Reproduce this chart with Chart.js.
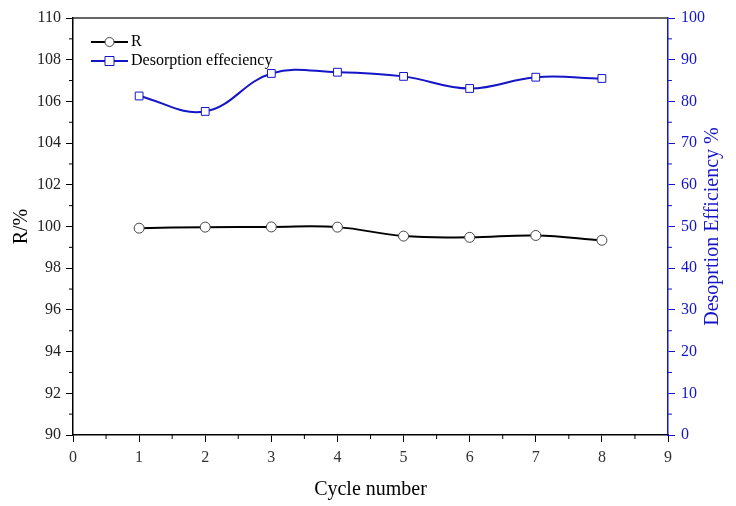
<!DOCTYPE html>
<html>
<head>
<meta charset="utf-8">
<script src="https://cdn.jsdelivr.net/npm/chart.js@4"></script>
<style>
  html, body { margin: 0; padding: 0; background: #fff; }
  #wrap { width: 736px; height: 506px; }
</style>
</head>
<body>
<div id="wrap"><canvas id="cycleChart" width="736" height="506"></canvas></div>
<script>
// values
const cycles = [1, 2, 3, 4, 5, 6, 7, 8];
const rValues = [99.92, 99.97, 99.98, 99.97, 99.54, 99.48, 99.57, 99.34];
const desValues = [81.3, 77.6, 86.7, 87.0, 86.0, 83.1, 85.8, 85.5];
const xTicks = [0, 1, 2, 3, 4, 5, 6, 7, 8, 9];
const legendLabels = ["R", "Desorption effeciency"];
const rightTitle = "Desoprtion Efficiency %";

const BLUE = "#1414c8";
const FONT = "'Liberation Serif', 'Times New Roman', serif";

// short minor ticks in between the major ones + top frame line + legend + right title
const extras = {
    id: "extras",
    afterDraw(chart) {
        const ctx = chart.ctx;
        const area = chart.chartArea;
        const drawMinor = function (scale, step, color, side) {
            ctx.save();
            ctx.strokeStyle = color;
            ctx.lineWidth = 1;
            ctx.beginPath();
            for (let v = scale.min + step; v < scale.max; v += step * 2) {
                const p = scale.getPixelForValue(v);
                if (side === "bottom") { ctx.moveTo(p, area.bottom); ctx.lineTo(p, area.bottom + 4); }
                if (side === "left") { ctx.moveTo(area.left, p); ctx.lineTo(area.left - 4, p); }
                if (side === "right") { ctx.moveTo(area.right, p); ctx.lineTo(area.right + 4, p); }
            }
            ctx.stroke();
            ctx.restore();
        };
        drawMinor(chart.scales.x, 0.5, "#000", "bottom");
        drawMinor(chart.scales.y, 1, "#000", "left");
        drawMinor(chart.scales.y2, 5, BLUE, "right");

        ctx.save();
        ctx.strokeStyle = "#333";
        ctx.lineWidth = 1.5;
        ctx.beginPath();
        ctx.moveTo(area.left, area.top);
        ctx.lineTo(area.right, area.top);
        ctx.stroke();
        ctx.restore();

        // right axis title reads bottom to top
        ctx.save();
        ctx.translate(713, (area.top + area.bottom) / 2);
        ctx.rotate(-Math.PI / 2);
        ctx.font = "20px " + FONT;
        ctx.fillStyle = BLUE;
        ctx.textAlign = "center";
        ctx.textBaseline = "middle";
        ctx.fillText(rightTitle, 0, 0);
        ctx.restore();

        // legend: line with marker in the middle
        ctx.save();
        ctx.font = "16px " + FONT;
        ctx.textBaseline = "middle";
        const rows = [
            { y: 42, color: "#000", style: "circle", label: legendLabels[0] },
            { y: 61, color: BLUE, style: "rect", label: legendLabels[1] }
        ];
        rows.forEach(function (r) {
            ctx.strokeStyle = r.color;
            ctx.lineWidth = 2;
            ctx.beginPath();
            ctx.moveTo(91, r.y);
            ctx.lineTo(128, r.y);
            ctx.stroke();
            ctx.fillStyle = "#fff";
            ctx.lineWidth = 1;
            ctx.strokeStyle = r.style === "circle" ? "#444" : BLUE;
            ctx.beginPath();
            if (r.style === "circle") ctx.arc(109.5, r.y, 4.5, 0, Math.PI * 2);
            else ctx.rect(105, r.y - 4.5, 9, 9);
            ctx.fill();
            ctx.stroke();
            ctx.fillStyle = "#000";
            ctx.fillText(r.label, 131, r.y);
        });
        ctx.restore();
    }
};

const ctx = document.getElementById("cycleChart");
new Chart(ctx, {
    type: "line",
    data: {
        datasets: [{
            label: legendLabels[0],
            data: cycles.map((c, i) => ({ x: c, y: rValues[i] })),
            yAxisID: "y",
            borderColor: "#000",
            borderWidth: 2,
            tension: 0.4,
            pointStyle: "circle",
            pointRadius: 5,
            pointBorderWidth: 1,
            pointBorderColor: "#444",
            pointBackgroundColor: "#fff"
        }, {
            label: legendLabels[1],
            data: cycles.map((c, i) => ({ x: c, y: desValues[i] })),
            yAxisID: "y2",
            borderColor: BLUE,
            borderWidth: 2,
            tension: 0.4,
            pointStyle: "rect",
            pointRadius: 5.5,
            pointBorderWidth: 1,
            pointBorderColor: BLUE,
            pointBackgroundColor: "#fff"
        }]
    },
    options: {
        responsive: false,
        animation: false,
        layout: { padding: { top: 18, left: 0, right: 0, bottom: 0 } },
        plugins: { legend: { display: false }, tooltip: { enabled: false } },
        scales: {
            x: {
                type: "linear",
                min: 0, max: 9,
                afterBuildTicks: s => { s.ticks = xTicks.map(v => ({ value: v })); },
                afterFit: s => { s.height = 71; },
                border: { color: "#000", width: 1.5 },
                grid: { drawOnChartArea: false, tickLength: 7, color: "#000" },
                ticks: { color: "#333", font: { family: FONT, size: 16 }, padding: 6 },
                title: { display: true, text: "Cycle number", color: "#000", font: { family: FONT, size: 20 }, padding: { top: 4 } }
            },
            y: {
                position: "left",
                min: 90, max: 110,
                afterFit: s => { s.width = 73; },
                border: { color: "#000", width: 1.5 },
                grid: { drawOnChartArea: false, tickLength: 7, color: "#000" },
                ticks: { stepSize: 2, color: "#222", font: { family: FONT, size: 16 }, padding: 5 },
                title: { display: true, text: "R/%", color: "#000", font: { family: FONT, size: 20 }, padding: { top: 10, bottom: 2 } }
            },
            y2: {
                position: "right",
                min: 0, max: 100,
                afterFit: s => { s.width = 68; },
                border: { color: BLUE, width: 1.5 },
                grid: { drawOnChartArea: false, tickLength: 7, color: BLUE },
                ticks: { stepSize: 10, color: BLUE, font: { family: FONT, size: 16 }, padding: 6 },
                title: { display: false }
            }
        }
    },
    plugins: [extras]
});
</script>
</body>
</html>
